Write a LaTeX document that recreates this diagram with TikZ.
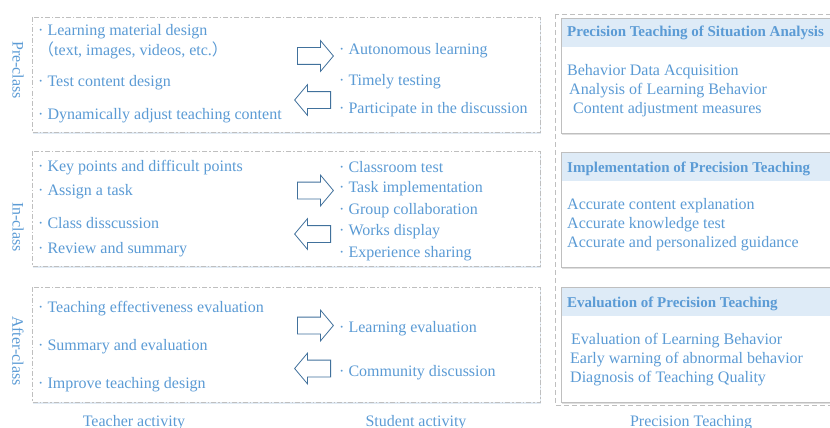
\documentclass[tikz,border=0pt]{standalone}
\usepackage{fontspec}
\setmainfont{Liberation Serif}
\newfontfamily\cjk{Noto Sans CJK SC}
\usetikzlibrary{shapes.arrows,shadows}

\definecolor{txtblue}{HTML}{5B9BD5}
\definecolor{headblue}{HTML}{DEEBF7}
\definecolor{arrowblue}{HTML}{41719C}
\definecolor{framegray}{HTML}{BFBFBF}
\definecolor{shadeblue}{HTML}{D6E2F0}

\begin{document}
\begin{tikzpicture}
  [x=1pt,y=-1pt,
   every node/.style={font=\fontsize{16}{19}\selectfont,text=txtblue,inner sep=0pt},
   listtext/.style={anchor=base west},
   stagelabel/.style={rotate=-90},
   colname/.style={anchor=base},
   rowbox/.style={draw=framegray,line width=0.6pt,fill=white,
     dash pattern=on 5pt off 2pt on 1.5pt off 2pt,
     drop shadow={shadow xshift=1pt,shadow yshift=-1.5pt,fill=shadeblue,opacity=0.7}},
   ptbox/.style={fill=white,
     drop shadow={shadow xshift=1pt,shadow yshift=-1.5pt,fill=black!25,opacity=0.5}},
   pthead/.style={anchor=base west,font=\fontsize{15}{18}\selectfont\bfseries},
   rarrow/.style={single arrow,draw=arrowblue,fill=white,line width=0.8pt,
     minimum height=36pt,inner xsep=0pt,inner ysep=8pt,anchor=tail,
     single arrow head extend=7pt,single arrow tip angle=100},
   larrow/.style={rarrow,rotate=180}]

  \clip (0,0) rectangle (830,428);

  % rows: pre-class, in-class, after-class
  \foreach \t in {17,151,287}
    \path[rowbox] (32,\t) rectangle (540,\t+115);

  % precision teaching column
  \draw[framegray,line width=0.8pt,dash pattern=on 5pt off 3pt] (555,14) rectangle (850,405);
  \foreach \t in {18,152,287} {
    \path[ptbox] (561,\t) rectangle (850,\t+115);
    \fill[headblue] (561,\t) rectangle (850,\t+29);
    \draw[framegray,line width=0.6pt] (561,\t) rectangle (850,\t+115);
  }

  \node[stagelabel] (pre)   at (18,70)  {Pre-class};
  \node[stagelabel] (in)    at (18,227) {In-class};
  \node[stagelabel] (after) at (18,351) {After-class};

  \node[listtext] (tpre1) at (38,36)  {· Learning material design};
  \node[listtext] (tpre2) at (38,56)  {{\cjk （}text, images, videos, etc.{\cjk ）}};
  \node[listtext] (tpre3) at (38,86)  {· Test content design};
  \node[listtext] (tpre4) at (38,119) {· Dynamically adjust teaching content};

  \node[listtext] (spre1) at (339,55)  {· Autonomous learning};
  \node[listtext] (spre2) at (339,85)  {· Timely testing};
  \node[listtext] (spre3) at (339,113) {· Participate in the discussion};

  \node[listtext] (tin1) at (38,171) {· Key points and difficult points};
  \node[listtext] (tin2) at (38,195) {· Assign a task};
  \node[listtext] (tin3) at (38,228) {· Class disscussion};
  \node[listtext] (tin4) at (38,253) {· Review and summary};

  \node[listtext] (sin1) at (339,172) {· Classroom test};
  \node[listtext] (sin2) at (339,192) {· Task implementation};
  \node[listtext] (sin3) at (339,214) {· Group collaboration};
  \node[listtext] (sin4) at (339,235) {· Works display};
  \node[listtext] (sin5) at (339,257) {· Experience sharing};

  \node[listtext] (taft1) at (38,312) {· Teaching effectiveness evaluation};
  \node[listtext] (taft2) at (38,350) {· Summary and evaluation};
  \node[listtext] (taft3) at (38,388) {· Improve teaching design};

  \node[listtext] (saft1) at (339,332) {· Learning evaluation};
  \node[listtext] (saft2) at (339,376) {· Community discussion};

  % block arrows between teacher and student
  \node[rarrow] (apre1) at (297,56)    {};
  \node[larrow] (apre2) at (331,100)   {};
  \node[rarrow] (ain1)  at (297,190.5) {};
  \node[larrow] (ain2)  at (331,234)   {};
  \node[rarrow] (aaft1) at (297,325.5) {};
  \node[larrow] (aaft2) at (331,368.5) {};

  \node[pthead] (h1) at (567,37)  {Precision Teaching of Situation Analysis};
  \node[pthead] (h2) at (567,172) {Implementation of Precision Teaching};
  \node[pthead] (h3) at (567,307) {Evaluation of Precision Teaching};

  \node[listtext] (p11) at (567,75)  {Behavior Data Acquisition};
  \node[listtext] (p12) at (569,94)  {Analysis of Learning Behavior};
  \node[listtext] (p13) at (573,113) {Content adjustment measures};

  \node[listtext] (p21) at (567,209) {Accurate content explanation};
  \node[listtext] (p22) at (567,228) {Accurate knowledge test};
  \node[listtext] (p23) at (567,247) {Accurate and personalized guidance};

  \node[listtext] (p31) at (571,344) {Evaluation of Learning Behavior};
  \node[listtext] (p32) at (570,363) {Early warning of abnormal behavior};
  \node[listtext] (p33) at (570,382) {Diagnosis of Teaching Quality};

  \node[colname] (teacher) at (134,426) {Teacher activity};
  \node[colname] (student) at (416,426) {Student activity};
  \node[colname] (precise) at (691,426) {Precision Teaching};

\end{tikzpicture}
\end{document}
